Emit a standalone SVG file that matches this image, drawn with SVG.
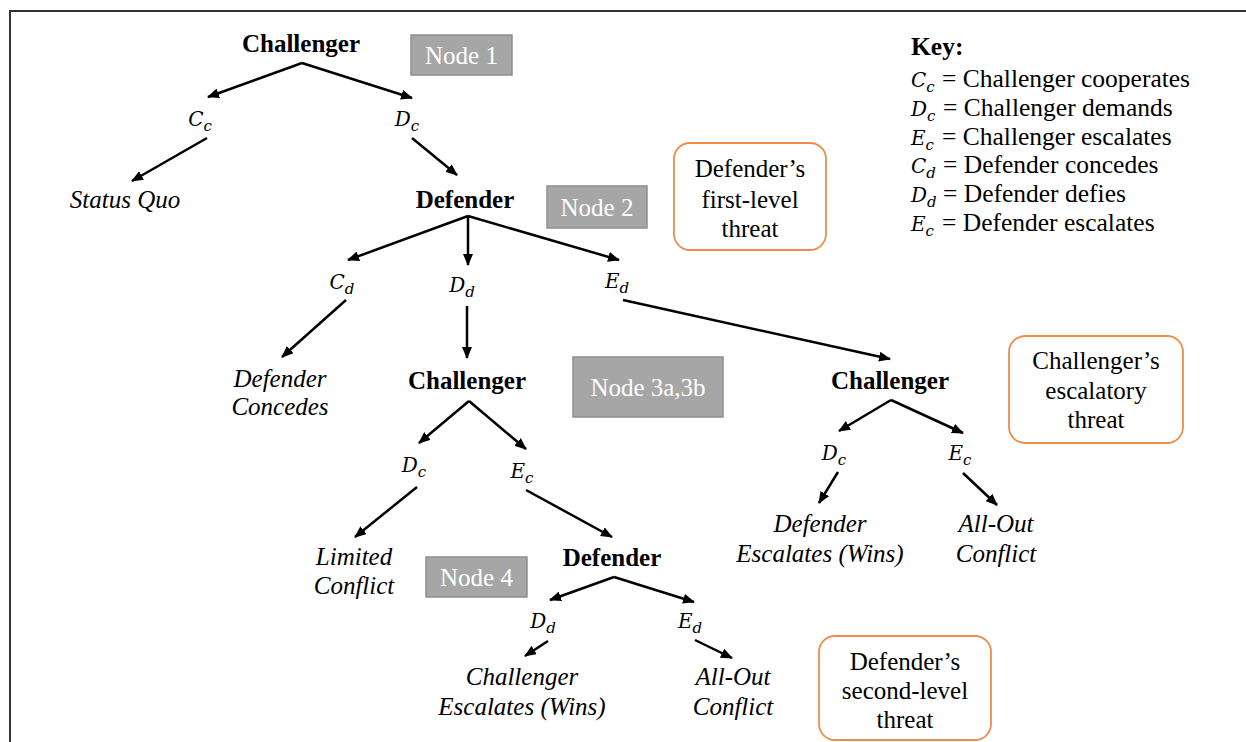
<svg xmlns="http://www.w3.org/2000/svg" width="1246" height="742" viewBox="0 0 1246 742">
<style>
text{font-family:"Liberation Serif","Times New Roman",serif;fill:#000;}
.b{font-weight:bold;font-size:25px;text-anchor:middle;}
.i{font-style:italic;font-size:25px;text-anchor:middle;}
.m{font-family:"DejaVu Serif","Liberation Serif",serif;font-style:italic;font-size:20px;text-anchor:middle;}
.sub{font-size:15px;}
.nb rect{fill:#a6a6a6;stroke:#8e8e8e;stroke-width:1.5;}
.nb text{fill:#fff;font-size:25px;text-anchor:middle;}
.tb rect{fill:#fff;stroke:#ee8d4b;stroke-width:1.8;}
.tb text{font-size:25px;text-anchor:middle;}
.key text{font-size:25.5px;}
.km{font-family:"DejaVu Serif","Liberation Serif",serif;font-style:italic;font-size:20px;}
.kms{font-family:"DejaVu Serif","Liberation Serif",serif;font-style:italic;font-size:15px;}
#connectors line{stroke:#000;stroke-width:2.5;marker-end:url(#ah);}
</style>
<defs>
<marker id="ah" viewBox="0 0 12 10" refX="11" refY="5" markerWidth="12" markerHeight="10" markerUnits="userSpaceOnUse" orient="auto"><path d="M0,0 L12,5 L0,10 z" fill="#000"/></marker>
</defs>
<rect width="1246" height="742" fill="#fff"/>
<path d="M10,742 V11 H1246" fill="none" stroke="#333" stroke-width="2"/>

<g id="connectors">
<line x1="302" y1="63" x2="208" y2="97"/>
<line x1="302" y1="63" x2="412" y2="98"/>
<line x1="207" y1="138" x2="132" y2="181"/>
<line x1="412" y1="138" x2="457" y2="175"/>
<line x1="468" y1="216" x2="348" y2="260"/>
<line x1="468" y1="216" x2="468" y2="265"/>
<line x1="468" y1="216" x2="619" y2="260"/>
<line x1="346" y1="300" x2="282" y2="357"/>
<line x1="467" y1="306" x2="467" y2="358"/>
<line x1="623" y1="300" x2="890" y2="359"/>
<line x1="469" y1="401" x2="419" y2="443"/>
<line x1="469" y1="401" x2="526" y2="449"/>
<line x1="891" y1="400" x2="839" y2="431"/>
<line x1="891" y1="400" x2="963" y2="433"/>
<line x1="417" y1="487" x2="355" y2="537"/>
<line x1="526" y1="490" x2="612" y2="537"/>
<line x1="838" y1="472" x2="819" y2="503"/>
<line x1="963" y1="473" x2="997" y2="505"/>
<line x1="614" y1="577" x2="550" y2="600"/>
<line x1="614" y1="577" x2="694" y2="602"/>
<line x1="548" y1="641" x2="525" y2="656"/>
<line x1="695" y1="640" x2="732" y2="658"/>
</g>

<g id="challenger1"><text class="b" x="301" y="52">Challenger</text></g>
<g id="node1" class="nb"><rect x="411" y="35" width="101" height="40"/><text x="461.5" y="64">Node 1</text></g>
<g id="cc1"><text class="m" x="200" y="126">C<tspan class="sub" dy="5">c</tspan></text></g>
<g id="dc1"><text class="m" x="407" y="126">D<tspan class="sub" dy="5">c</tspan></text></g>
<g id="statusquo"><text class="i" x="125" y="208">Status Quo</text></g>
<g id="defender1"><text class="b" x="465" y="208">Defender</text></g>
<g id="node2" class="nb"><rect x="547" y="186" width="100" height="42"/><text x="597" y="216">Node 2</text></g>
<g id="threat1" class="tb"><rect x="674" y="143" width="152" height="107" rx="16"/><text x="750" y="177">Defender’s</text><text x="750" y="208">first-level</text><text x="750" y="237">threat</text></g>

<g id="key" class="key">
<text x="911" y="55" font-weight="bold">Key:</text>
<text x="911" y="87"><tspan class="km">C</tspan><tspan class="kms" dy="5">c</tspan><tspan x="942" dy="-5">= Challenger cooperates</tspan></text>
<text x="911" y="116"><tspan class="km">D</tspan><tspan class="kms" dy="5">c</tspan><tspan x="943" dy="-5">= Challenger demands</tspan></text>
<text x="911" y="145"><tspan class="km">E</tspan><tspan class="kms" dy="5">c</tspan><tspan x="942" dy="-5">= Challenger escalates</tspan></text>
<text x="911" y="173"><tspan class="km">C</tspan><tspan class="kms" dy="5">d</tspan><tspan x="943" dy="-5">= Defender concedes</tspan></text>
<text x="911" y="202"><tspan class="km">D</tspan><tspan class="kms" dy="5">d</tspan><tspan x="943" dy="-5">= Defender defies</tspan></text>
<text x="911" y="231"><tspan class="km">E</tspan><tspan class="kms" dy="5">c</tspan><tspan x="942" dy="-5">= Defender escalates</tspan></text>
</g>

<g id="cd"><text class="m" x="342" y="289">C<tspan class="sub" dy="5">d</tspan></text></g>
<g id="dd1"><text class="m" x="462" y="292">D<tspan class="sub" dy="5">d</tspan></text></g>
<g id="ed1"><text class="m" x="617" y="288">E<tspan class="sub" dy="5">d</tspan></text></g>
<g id="defconcedes"><text class="i" x="280" y="387">Defender</text><text class="i" x="280" y="415">Concedes</text></g>
<g id="challenger2"><text class="b" x="467" y="389">Challenger</text></g>
<g id="node3" class="nb"><rect x="573" y="357" width="150" height="60"/><text x="648" y="396">Node 3a,3b</text></g>
<g id="challenger3"><text class="b" x="890" y="389">Challenger</text></g>
<g id="threat2" class="tb"><rect x="1009" y="336" width="174" height="107" rx="16"/><text x="1096" y="369">Challenger’s</text><text x="1096" y="399">escalatory</text><text x="1096" y="428">threat</text></g>

<g id="dc2"><text class="m" x="414" y="472">D<tspan class="sub" dy="5">c</tspan></text></g>
<g id="ec2"><text class="m" x="522" y="478">E<tspan class="sub" dy="5">c</tspan></text></g>
<g id="dc3"><text class="m" x="834" y="460">D<tspan class="sub" dy="5">c</tspan></text></g>
<g id="ec3"><text class="m" x="960" y="460">E<tspan class="sub" dy="5">c</tspan></text></g>
<g id="defwins"><text class="i" x="820" y="532">Defender</text><text class="i" x="820" y="562">Escalates (Wins)</text></g>
<g id="allout1"><text class="i" x="996" y="532">All-Out</text><text class="i" x="996" y="562">Conflict</text></g>
<g id="limited"><text class="i" x="354" y="565">Limited</text><text class="i" x="354" y="594">Conflict</text></g>
<g id="node4" class="nb"><rect x="426" y="557" width="101" height="40"/><text x="476.5" y="586">Node 4</text></g>
<g id="defender2"><text class="b" x="612" y="566">Defender</text></g>
<g id="dd2"><text class="m" x="543" y="628">D<tspan class="sub" dy="5">d</tspan></text></g>
<g id="ed2"><text class="m" x="690" y="628">E<tspan class="sub" dy="5">d</tspan></text></g>
<g id="chalwins"><text class="i" x="522" y="685">Challenger</text><text class="i" x="522" y="715">Escalates (Wins)</text></g>
<g id="allout2"><text class="i" x="733" y="685">All-Out</text><text class="i" x="733" y="715">Conflict</text></g>
<g id="threat3" class="tb"><rect x="819" y="636" width="172" height="104" rx="16"/><text x="905" y="670">Defender’s</text><text x="905" y="699">second-level</text><text x="905" y="728">threat</text></g>
</svg>
